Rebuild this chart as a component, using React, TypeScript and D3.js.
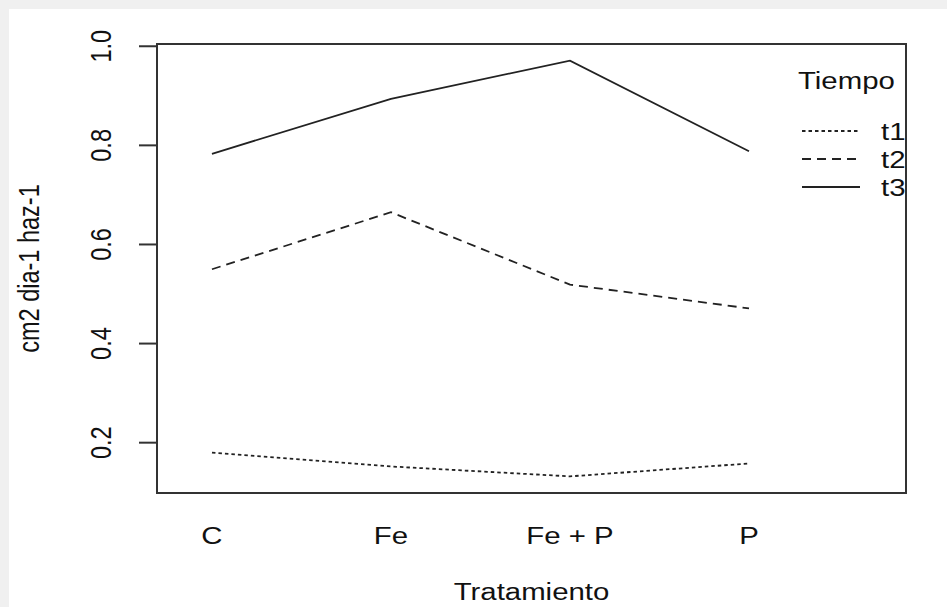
import React from "react";
import * as d3 from "d3";

const categories = ["C", "Fe", "Fe + P", "P"];
const seriesNames = ["t1", "t2", "t3"];
const t1Values = [0.18, 0.152, 0.132, 0.158];
const t2Values = [0.55, 0.665, 0.519, 0.471];
const t3Values = [0.783, 0.894, 0.971, 0.788];
const yTicks = [0.2, 0.4, 0.6, 0.8, 1.0];
const seriesValues = [t1Values, t2Values, t3Values];
const dashes = ["3.5,3", "9,6", "none"];

const W = 947, H = 607;
const L = 157, R = 906, T = 44, B = 493;
const SX = 1.25;
const FS = 23.5;
const FONT = "'Liberation Sans', Arial, sans-serif";

export default function App() {
  const all = seriesValues.flat();
  const mn = d3.min(all)!, mx = d3.max(all)!;
  const r = mx - mn;
  const y = d3.scaleLinear().domain([mn - 0.04 * r, mx + 0.04 * r]).range([B, T]);
  const x = d3.scaleLinear().domain([0.693, 4.877]).range([L, R]);
  const line = d3.line<number>().x((_, i) => x(i + 1)).y((d) => y(d));

  const txt = (
    tx: number, ty: number, s: string, anchor: string, rot = 0, key?: string
  ) => (
    <text
      key={key}
      transform={`translate(${tx},${ty}) scale(${SX},1) rotate(${rot})`}
      textAnchor={anchor}
      fontFamily={FONT}
      fontSize={FS}
      fill="#111"
    >
      {s}
    </text>
  );

  return (
    <svg width={W} height={H} style={{ position: "absolute", left: 0, top: 0 }}>
      <rect x={0} y={0} width={W} height={H} fill="#fff" />
      <rect x={0} y={0} width={W} height={9} fill="#f0f0f0" />
      <rect x={0} y={0} width={9} height={H} fill="#f0f0f0" />
      {/* series lines */}
      {seriesValues.map((vals, i) => (
        <path
          key={seriesNames[i]}
          d={line(vals) || ""}
          fill="none"
          stroke="#222"
          strokeWidth={1.8}
          strokeDasharray={dashes[i]}
        />
      ))}
      {/* box */}
      <rect x={L} y={T} width={R - L} height={B - T} fill="none" stroke="#333" strokeWidth={2} />
      {/* y ticks */}
      {yTicks.map((t) => (
        <g key={t}>
          <line x1={L - 18} x2={L} y1={y(t)} y2={y(t)} stroke="#333" strokeWidth={2} />
          {txt(111, y(t), t.toFixed(1), "middle", -90, "yl" + t)}
        </g>
      ))}
      {/* x labels */}
      {categories.map((c, i) => txt(x(i + 1), 544, c, "middle", 0, "xl" + c))}
      {txt((L + R) / 2, 600, "Tratamiento", "middle", 0, "xt")}
      {txt(39, (T + B) / 2, "cm2 dia-1 haz-1", "middle", -90, "yt")}
      {/* legend */}
      {txt(798, 89, "Tiempo", "start", 0, "lt")}
      {seriesNames.map((s, i) => (
        <g key={"lg" + s}>
          <line
            x1={802}
            x2={860}
            y1={131 + i * 28}
            y2={131 + i * 28}
            stroke="#222"
            strokeWidth={1.8}
            strokeDasharray={dashes[i]}
          />
          {txt(881, 140 + i * 28, s, "start", 0, "ll" + s)}
        </g>
      ))}
    </svg>
  );
}
